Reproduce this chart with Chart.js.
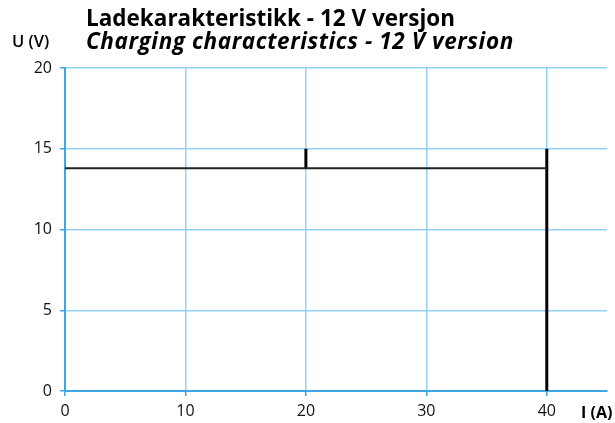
<!DOCTYPE html>
<html><head><meta charset="utf-8">
<script src="https://cdn.jsdelivr.net/npm/chart.js@4/dist/chart.umd.min.js"></script>
<style>
html,body{margin:0;padding:0;background:#fff;}
#wrap{position:relative;width:615px;height:423px;}
canvas{position:absolute;left:0;top:0;}
.t{position:absolute;font-family:"Open Sans",sans-serif;font-weight:700;color:#000;white-space:nowrap;}
</style></head><body>
<div id="wrap">
<canvas id="c" width="615" height="423"></canvas>
<div class="t" style="left:86px;top:2px;font-size:22.5px;letter-spacing:0px;">Ladekarakteristikk - 12 V versjon</div>
<div class="t" style="left:86px;top:25px;font-size:22.5px;font-style:italic;letter-spacing:0.6px;">Charging characteristics - 12 V version</div>
<div class="t" style="left:12px;top:29px;font-size:16.5px;font-weight:600;">U (V)</div>
<div class="t" style="left:581px;top:401px;font-size:16px;">I (A)</div>
</div>
<script>
const xTicks = [0, 10, 20, 30, 40];
const yTicks = [0, 5, 10, 15, 20];
const plateauX = [0, 20, 40];
const plateauU = [13.8, 13.8, 13.8];
const stepX = [20, 20, null, 40, 40];
const stepU = [13.8, 15, null, 15, 0];

const blue = '#3ea6e6';
const grid = '#93d2f5';
new Chart(document.getElementById('c'), {
  type: 'scatter',
  data: {
    datasets: [
      { data: plateauX.map((x,i)=>({x, y: plateauU[i]})), showLine: true, borderColor: '#222', borderWidth: 2, pointRadius: 0, spanGaps: false },
      { data: stepX.map((x,i)=>({x, y: stepU[i]})), showLine: true, borderColor: '#000', borderWidth: 3, pointRadius: 0, spanGaps: false }
    ]
  },
  options: {
    responsive: false, animation: false,
    layout: { padding: { top: 68, right: 8, left: 0, bottom: 0 } },
    plugins: { legend: { display: false }, tooltip: { enabled: false } },
    scales: {
      x: {
        type: 'linear', min: 0, max: 45,
        afterBuildTicks: s => { s.ticks = xTicks.map(v => ({ value: v })); },
        afterFit: s => { s.height = 32; },
        grid: { color: grid, lineWidth: 1.5, tickColor: blue, tickLength: 5, drawTicks: true },
        border: { color: blue, width: 2 },
        ticks: { color: '#111', font: { family: 'Open Sans', size: 16 }, padding: 6 }
      },
      y: {
        min: 0, max: 20,
        afterBuildTicks: s => { s.ticks = yTicks.map(v => ({ value: v })); },
        afterFit: s => { s.width = 65; },
        grid: { color: grid, lineWidth: 1.5, tickColor: blue, tickLength: 5 },
        border: { color: blue, width: 2 },
        ticks: { color: '#111', font: { family: 'Open Sans', size: 16 }, padding: 8 }
      }
    }
  }
});
</script>
</body></html>
